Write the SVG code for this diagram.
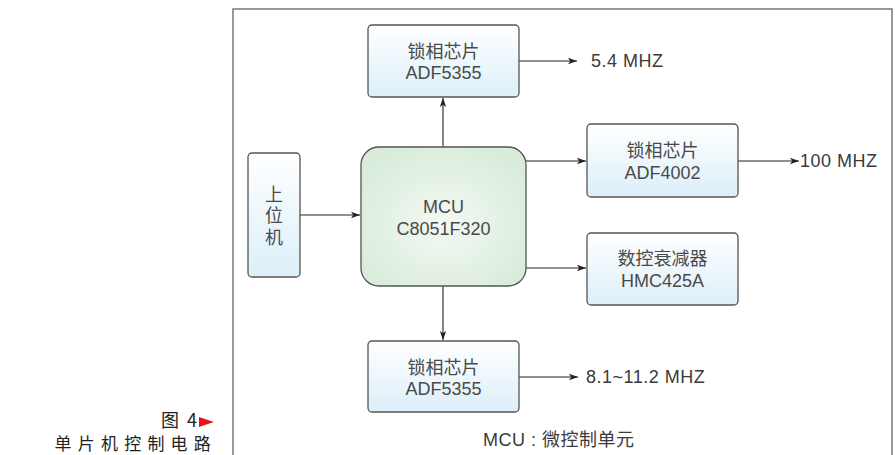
<svg xmlns="http://www.w3.org/2000/svg" width="895" height="455" viewBox="0 0 895 455">
<defs>
<linearGradient id="gBlue" x1="0" y1="0" x2="0" y2="1">
<stop offset="0" stop-color="#ffffff"/>
<stop offset="1" stop-color="#dceff9"/>
</linearGradient>
<radialGradient id="gGreen" cx="0.5" cy="0.55" r="0.6">
<stop offset="0" stop-color="#f3f9f3"/>
<stop offset="1" stop-color="#d9ecdb"/>
</radialGradient>
<marker id="arr" viewBox="0 0 10 10" refX="10" refY="5" markerWidth="9" markerHeight="9" markerUnits="userSpaceOnUse" orient="auto">
<path d="M0,1.5 L10,5 L0,8.5 L2.5,5 Z" fill="#222"/>
</marker>
</defs>
<style>
.box{fill:url(#gBlue);stroke:#555;stroke-width:1.3}
.mcu{fill:url(#gGreen);stroke:#555;stroke-width:1.3}
.t{font-family:"Liberation Sans","Noto Sans CJK SC",sans-serif;font-size:18px;fill:#4a4a4a;text-anchor:middle}
.lbl{font-family:"Liberation Sans","Noto Sans CJK SC",sans-serif;font-size:18px;letter-spacing:0.5px;fill:#3a3a3a}
.ln{stroke:#222;stroke-width:1.1;fill:none;marker-end:url(#arr)}
.cap{font-family:"Noto Sans CJK SC","Liberation Sans",sans-serif;fill:#222;text-anchor:end}
</style>
<rect width="895" height="455" fill="#ffffff"/>
<rect x="233" y="9" width="659" height="460" fill="none" stroke="#777" stroke-width="1.5"/>

<g id="caption">
<text class="cap" x="197" y="427" font-size="18">图<tspan dx="8">4</tspan></text>
<polygon points="199,417 214,422 199,427" fill="#e8141c"/>
<text class="cap" x="217" y="450" font-size="17" letter-spacing="6.2">单片机控制电路</text>
</g>

<g id="connectors">
<line class="ln" x1="443" y1="147" x2="443" y2="98"/>
<line class="ln" x1="443" y1="286" x2="443" y2="340"/>
<line class="ln" x1="300" y1="215" x2="360" y2="215"/>
<line class="ln" x1="526" y1="161" x2="586" y2="161"/>
<line class="ln" x1="526" y1="268" x2="586" y2="268"/>
<line class="ln" x1="519" y1="61" x2="577" y2="61"/>
<line class="ln" x1="738" y1="161" x2="799" y2="161"/>
<line class="ln" x1="519" y1="377" x2="578" y2="377"/>
</g>

<g id="pll_top">
<rect class="box" x="368" y="25" width="151" height="72" rx="4"/>
<text class="t" x="443.5" y="58">锁相芯片</text>
<text class="t" x="443.5" y="79">ADF5355</text>
</g>

<g id="host">
<rect class="box" x="248" y="153" width="52" height="124" rx="4"/>
<text class="t" x="274" y="201">上</text>
<text class="t" x="274" y="222">位</text>
<text class="t" x="274" y="244">机</text>
</g>

<g id="mcu">
<rect class="mcu" x="361" y="147" width="165" height="139" rx="18"/>
<text class="t" x="443.5" y="213">MCU</text>
<text class="t" x="443.5" y="235">C8051F320</text>
</g>

<g id="pll_4002">
<rect class="box" x="587" y="124" width="151" height="73" rx="4"/>
<text class="t" x="662.5" y="157">锁相芯片</text>
<text class="t" x="662.5" y="179">ADF4002</text>
</g>

<g id="attenuator">
<rect class="box" x="587" y="233" width="151" height="72" rx="4"/>
<text class="t" x="662.5" y="265">数控衰减器</text>
<text class="t" x="662.5" y="287">HMC425A</text>
</g>

<g id="pll_bottom">
<rect class="box" x="368" y="341" width="151" height="71" rx="4"/>
<text class="t" x="443.5" y="374">锁相芯片</text>
<text class="t" x="443.5" y="395">ADF5355</text>
</g>

<g id="labels">
<text class="lbl" x="591" y="67">5.4 MHZ</text>
<text class="lbl" x="800" y="167">100 MHZ</text>
<text class="lbl" x="586" y="383">8.1~11.2 MHZ</text>
<text class="lbl" x="483" y="446">MCU : 微控制单元</text>
</g>
</svg>
